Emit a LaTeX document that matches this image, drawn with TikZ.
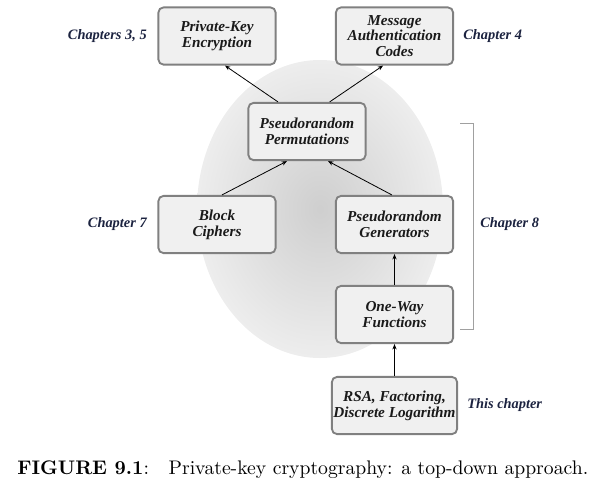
\documentclass[tikz,border=0pt]{standalone}
\usepackage{fontspec}
\usepackage{xcolor}
\usepackage{tikz}
\usetikzlibrary{calc,arrows.meta}
\newfontfamily\boxfont{Liberation Serif}
\newfontfamily\capfont[BoldFont=lmroman10-bold.otf]{lmroman10-regular.otf}
\definecolor{ink}{HTML}{1A1A1A}
\definecolor{navy}{HTML}{1C2340}
\definecolor{rim}{HTML}{808080}
\definecolor{paper}{HTML}{F0F0F0}
\definecolor{brace}{HTML}{A0A0A0}
\tikzset{
  topic/.style={draw=rim, fill=paper, line width=1.4pt, rounded corners=4pt,
    minimum width=88pt, minimum height=43pt, inner sep=1pt, align=center,
    text=ink, font=\boxfont\bfseries\itshape\fontsize{11.4}{11.8}\selectfont},
  chap/.style={text=navy, font=\boxfont\bfseries\itshape\fontsize{10.8}{12}\selectfont, inner sep=0pt},
  link/.style={draw=black, line width=0.6pt, -{Stealth[length=4pt,width=3.2pt]}},
  side/.style={draw=brace, line width=0.7pt},
}
\begin{document}
\begin{tikzpicture}[x=0.75pt,y=-0.75pt]
  \useasboundingbox (0,0) rectangle (607,487);
  % shaded background
  \shade[inner color=black!19, outer color=black!7] (320,209) ellipse (123 and 149);
  % boxes
  \node[topic] (pke) at (217,36) {Private-Key\\Encryption};
  \node[topic] (mac) at (394.5,36) {Message\\Authentication\\Codes};
  \node[topic] (prp) at (307,131.5) {Pseudorandom\\Permutations};
  \node[topic] (bc)  at (217,224.5) {Block\\Ciphers};
  \node[topic] (prg) at (394.5,224.5) {Pseudorandom\\Generators};
  \node[topic] (owf) at (394.5,314.5) {One-Way\\Functions};
  \node[topic, minimum width=94pt] (rsa) at (394.5,405.5) {RSA, Factoring,\\Discrete Logarithm};
  % chapter labels
  \node[chap, anchor=east] (c35) at (147,36) {Chapters 3, 5};
  \node[chap, anchor=west] (c4)  at (463,36) {Chapter 4};
  \node[chap, anchor=east] (c7)  at (147,224) {Chapter 7};
  \node[chap, anchor=west] (c8)  at (480,224) {Chapter 8};
  \node[chap, anchor=west] (cur) at (467,405) {This chapter};
  % arrows
  \draw[link] ([xshift=-21.75pt]prp.north) -- ([xshift=6pt]pke.south);
  \draw[link] ([xshift=17pt]prp.north) -- ([xshift=-8.6pt]mac.south);
  \draw[link] ([xshift=3.75pt]bc.north) -- ([xshift=-15pt]prp.south);
  \draw[link] ([xshift=-2pt]prg.north) -- ([xshift=15.75pt]prp.south);
  \draw[link] (owf) -- (prg);
  \draw[link] (rsa) -- (owf);
  % bracket for chapter 8
  \coordinate (b1) at (460,123);
  \coordinate (b2) at (460,329);
  \draw[side] (b1) -- ++(13,0) |- (b2);
  % caption
  \node[anchor=base west, inner sep=0pt, font=\capfont\fontsize{14.75}{17}\selectfont] (cap) at (17,474)
    {\textbf{FIGURE 9.1}:\quad Private-key cryptography: a top-down approach.};
\end{tikzpicture}
\end{document}
